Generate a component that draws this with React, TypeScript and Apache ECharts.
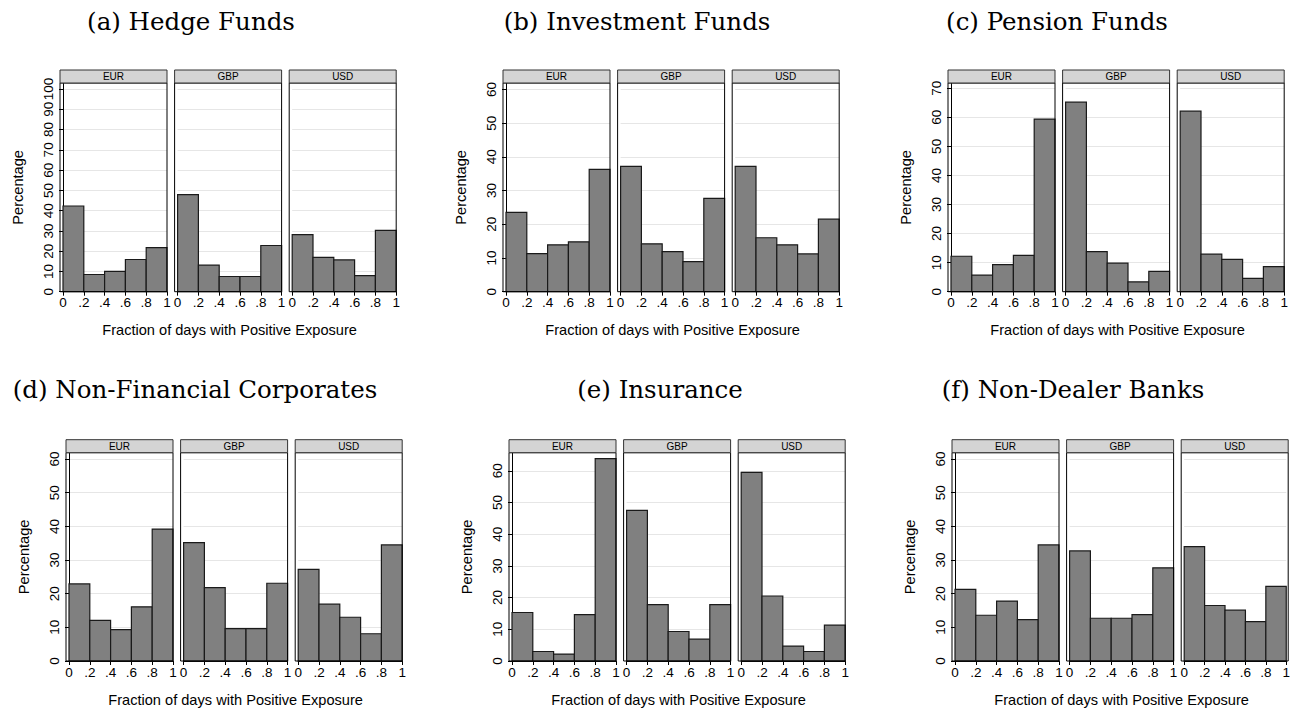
import React, { useEffect, useRef } from 'react';
import * as echarts from 'echarts';

// ---------- data ----------
const binEdges = [0, 0.2, 0.4, 0.6, 0.8, 1];
const xTickLabels = ['0', '.2', '.4', '.6', '.8', '1'];
const currencies = ['EUR', 'GBP', 'USD'];
const panelTitles = [
  '(a) Hedge Funds',
  '(b) Investment Funds',
  '(c) Pension Funds',
  '(d) Non-Financial Corporates',
  '(e) Insurance',
  '(f) Non-Dealer Banks',
];
const xAxisTitle = 'Fraction of days with Positive Exposure';
const yAxisTitle = 'Percentage';

const yTicks100 = [0, 10, 20, 30, 40, 50, 60, 70, 80, 90, 100];
const yTicks70 = [0, 10, 20, 30, 40, 50, 60, 70];
const yTicks60 = [0, 10, 20, 30, 40, 50, 60];

// percentages per bin (0-.2, .2-.4, .4-.6, .6-.8, .8-1)
const hedgeEUR = [42.3, 8.5, 10.0, 15.9, 21.8];
const hedgeGBP = [47.9, 13.1, 7.5, 7.5, 22.8];
const hedgeUSD = [28.2, 16.9, 15.7, 7.9, 30.3];

const investEUR = [23.5, 11.3, 13.9, 14.8, 36.3];
const investGBP = [37.2, 14.2, 11.9, 8.9, 27.7];
const investUSD = [37.2, 16.0, 13.9, 11.2, 21.5];

const pensionEUR = [12.2, 5.7, 9.3, 12.5, 59.4];
const pensionGBP = [65.2, 13.8, 9.8, 3.4, 7.0];
const pensionUSD = [62.1, 12.9, 11.1, 4.6, 8.6];

const corpEUR = [22.9, 12.1, 9.3, 16.1, 39.2];
const corpGBP = [35.2, 21.8, 9.6, 9.6, 23.1];
const corpUSD = [27.2, 16.9, 13.0, 8.1, 34.5];

const insEUR = [15.3, 3.0, 2.2, 14.6, 63.8];
const insGBP = [47.5, 17.8, 9.3, 6.9, 17.8];
const insUSD = [59.5, 20.5, 4.7, 3.0, 11.3];

const bankEUR = [21.3, 13.6, 17.8, 12.3, 34.5];
const bankGBP = [32.7, 12.7, 12.7, 13.8, 27.7];
const bankUSD = [34.0, 16.5, 15.1, 11.7, 22.2];

const panelData = [
  [hedgeEUR, hedgeGBP, hedgeUSD],
  [investEUR, investGBP, investUSD],
  [pensionEUR, pensionGBP, pensionUSD],
  [corpEUR, corpGBP, corpUSD],
  [insEUR, insGBP, insUSD],
  [bankEUR, bankGBP, bankUSD],
];
const panelYMax = [103, 61.9, 71.8, 61.9, 65.7, 61.9];
const panelYTicks = [yTicks100, yTicks60, yTicks70, yTicks60, yTicks60, yTicks60];

// ---------- layout ----------
const FACET_W = 107;
const FACET_STEP = 114.6;
const STRIP_H = 13;
const panelFrameLeft = [60, 503, 948, 66, 509, 952];
const panelPlotTop = [83, 83, 83, 452.7, 452.7, 452.7];
const panelZeroY = [291.7, 291.7, 291.7, 661, 661, 661];
const panelTitleX = [191, 637, 1057, 195, 660, 1073];
const panelTitleTop = [9, 9, 9, 377, 377, 377];

const SANS = '"Liberation Sans", Arial, Helvetica, sans-serif';
const SERIF = '"DejaVu Serif", "Liberation Serif", serif';

export default function App() {
  const ref = useRef<HTMLDivElement>(null);

  useEffect(() => {
    const chart = echarts.init(ref.current as HTMLDivElement, null, { renderer: 'svg' });
    const grids: any[] = [];
    const xAxes: any[] = [];
    const yAxes: any[] = [];
    const series: any[] = [];
    const graphics: any[] = [];
    const titles: any[] = [];

    panelTitles.forEach((title, pi) => {
      titles.push({
        text: title,
        left: panelTitleX[pi],
        top: panelTitleTop[pi],
        textAlign: 'center',
        padding: 0,
        textStyle: { fontFamily: SERIF, fontSize: 24.5, fontWeight: 'normal', color: '#000' },
      });
      const top = panelPlotTop[pi];
      const zero = panelZeroY[pi];
      currencies.forEach((cur, fi) => {
        const fl = panelFrameLeft[pi] + fi * FACET_STEP;
        const gi = grids.length;
        grids.push({ left: fl + 3, top, width: FACET_W - 3, height: zero - top });
        xAxes.push({
          gridIndex: gi,
          type: 'value',
          min: 0,
          max: 1,
          interval: 0.2,
          name: fi === 1 ? xAxisTitle : '',
          nameLocation: 'middle',
          nameGap: 31,
          nameTextStyle: { fontFamily: SANS, fontSize: 14.6, color: '#000' },
          axisLine: { show: true, lineStyle: { color: '#000', width: 1 } },
          axisTick: { show: true, length: 4, lineStyle: { color: '#000', width: 1 } },
          axisLabel: {
            margin: 4,
            fontFamily: SANS,
            fontSize: 13.5,
            color: '#000',
            formatter: (v: number) => xTickLabels[Math.round(v / 0.2)] ?? '',
          },
          splitLine: { show: false },
        });
        const ticks = panelYTicks[pi];
        yAxes.push({
          gridIndex: gi,
          type: 'value',
          min: 0,
          max: panelYMax[pi],
          interval: 10,
          offset: 3,
          name: fi === 0 ? yAxisTitle : '',
          nameLocation: 'middle',
          nameGap: 35,
          nameTextStyle: { fontFamily: SANS, fontSize: 14.6, color: '#000' },
          axisLine: { show: fi === 0, lineStyle: { color: '#000', width: 1 } },
          axisTick: { show: fi === 0, length: 4, customValues: ticks, lineStyle: { color: '#000' } },
          axisLabel: {
            show: fi === 0,
            rotate: 90,
            margin: 5,
            customValues: ticks,
            fontFamily: SANS,
            fontSize: 13.5,
            color: '#000',
          },
          splitLine: { show: true, lineStyle: { color: '#e6e6e6', width: 1 } },
        });
        const values = panelData[pi][fi];
        series.push({
          type: 'custom',
          xAxisIndex: gi,
          yAxisIndex: gi,
          data: values.map((v, k) => [binEdges[k], binEdges[k + 1], v]),
          encode: { x: [0, 1], y: 2 },
          renderItem: (_params: any, api: any) => {
            const p0 = api.coord([api.value(0), api.value(2)]);
            const p1 = api.coord([api.value(1), 0]);
            return {
              type: 'rect',
              shape: { x: p0[0], y: p0[1], width: p1[0] - p0[0], height: p1[1] - p0[1] },
              style: { fill: '#808080', stroke: '#1a1a1a', lineWidth: 1.2 },
            };
          },
        });
        // facet frame
        graphics.push({
          type: 'rect',
          silent: true,
          z: 100,
          shape: { x: fl, y: top, width: FACET_W, height: zero - top },
          style: { fill: 'none', stroke: '#000', lineWidth: 1 },
        });
        // strip header
        graphics.push({
          type: 'rect',
          silent: true,
          z: 100,
          shape: { x: fl, y: top - STRIP_H, width: FACET_W, height: STRIP_H },
          style: { fill: '#d4d4d4', stroke: '#333', lineWidth: 1 },
        });
        graphics.push({
          type: 'text',
          silent: true,
          z: 101,
          x: fl + FACET_W / 2,
          y: top - STRIP_H / 2,
          style: {
            text: cur,
            align: 'center',
            verticalAlign: 'middle',
            fontFamily: SANS,
            fontSize: 10,
            fill: '#000',
          },
        });
      });
    });

    chart.setOption({
      animation: false,
      backgroundColor: '#fff',
      title: titles,
      grid: grids,
      xAxis: xAxes,
      yAxis: yAxes,
      series,
      graphic: graphics,
    });
    return () => chart.dispose();
  }, []);

  return (
    <div
      ref={ref}
      style={{ position: 'absolute', left: 0, top: 0, width: 1293, height: 713 }}
    />
  );
}
